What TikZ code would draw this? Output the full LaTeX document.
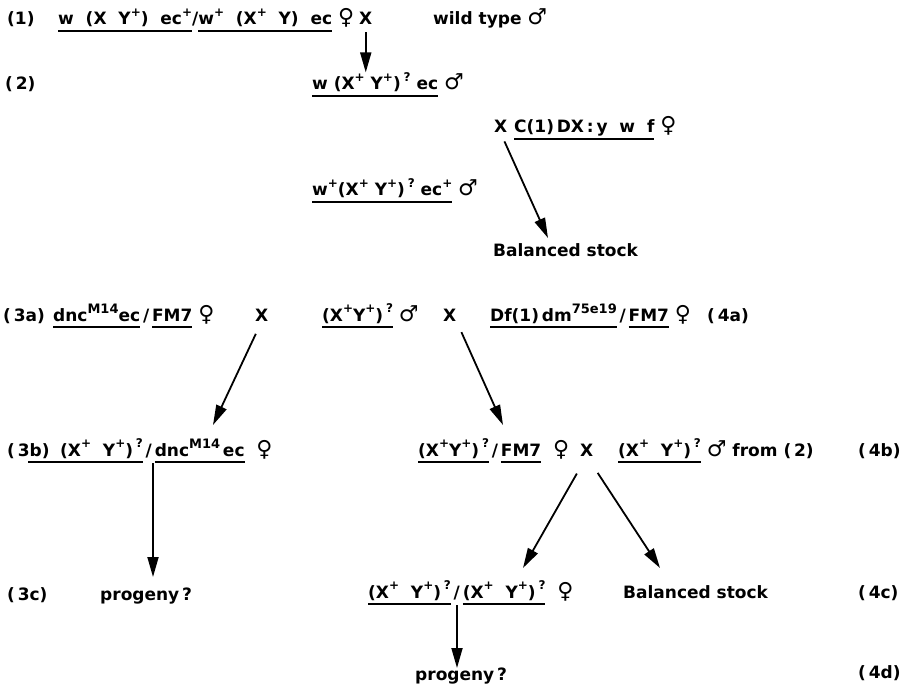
\documentclass[tikz,border=0pt]{standalone}
\usepackage{fontspec}
\setmainfont{DejaVu Sans}
\newfontfamily\symfont{DejaVu Sans}
\usetikzlibrary{arrows.meta, calc}

% underlined genotype, optional extra length on the left
\newcommand{\gul}[2][0pt]{\begingroup\setbox0\hbox{#2}\rlap{\kern-#1\rule[-7pt]{\dimexpr\wd0+#1\relax}{1.6pt}}\box0\endgroup}
\newcommand{\up}[1]{\raisebox{8.5pt}{\fontsize{12}{12}\selectfont #1}}
\newcommand{\upm}[1]{\raisebox{8pt}{\fontsize{13}{13}\selectfont #1}}
\newcommand{\fem}{{\symfont\bfseries\fontsize{22}{22}\selectfont ♀}}
\newcommand{\mal}{{\symfont\bfseries\fontsize{22}{22}\selectfont ♂}}

\begin{document}
\begin{tikzpicture}[x=1pt,y=-1pt,
  txt/.style={anchor=base west, inner sep=0pt, font=\fontsize{17}{20}\selectfont\bfseries},
  arr/.style={line width=1.8pt, -{Triangle[length=20pt,width=11pt]}}]
\useasboundingbox (0,0) rectangle (914,690);

% Cross (1) and (2)
\node[txt] (lab1) at (7,25) {(1)};
\node[txt] (p1) at (58,25) {\gul{w\ \ (X\ \ Y\up{+})\ \ ec\up{+}}/\gul{w\up{+}\ \ (X\up{+}\ \ Y)\ \ ec}~\fem};
\node[txt] (x1) at (359,25) {X};
\node[txt] (wt) at (433,25) {wild type~\mal};
\node[txt] (lab2) at (5,90) {(\,2)};
\node[txt] (p2) at (312,90) {\gul{w (X\up{+} Y\up{+})\,\up{?} ec}~\mal};
\node[txt] (x2) at (494,133) {X};
\node[txt] (cx) at (514,133) {\gul{C(1)\,DX\,:\,y\ \ w\ \ f}~\fem};
\node[txt] (p2b) at (312,196) {\gul{w\up{+}(X\up{+} Y\up{+})\,\up{?} ec\up{+}}~\mal};
\node[txt] (bs1) at (493,257) {Balanced stock};
\coordinate (tbs1) at (548,238);
\draw[arr, shorten <=7pt] (x1.south) -- (x1.south |- p2.north);
\draw[arr, shorten <=9pt] (x2.south) -- (tbs1);

% Crosses (3) and (4)
\node[txt] (lab3a) at (3,321) {(\,3a)};
\node[txt] (p3a) at (53,321) {\gul{dnc\upm{M14}ec}\,/\,\gul{FM7}~\fem};
\node[txt] (x3) at (255,321) {X};
\node[txt] (p4m) at (322,321) {\gul{(X\up{+}Y\up{+})\,\up{?}}~\mal};
\node[txt] (x4) at (443,321) {X};
\node[txt] (p4a) at (490,321) {\gul{Df(1)\,dm\upm{75e19}}\,/\,\gul{FM7}~\fem};
\node[txt] (lab4a) at (707,321) {(\,4a)};

\node[txt] (lab3b) at (7,456) {(\,3b)};
\node[txt] (p3b) at (60,456) {\gul[32pt]{(X\up{+}\ \ Y\up{+})\,\up{?}}\,/\,\gul{dnc\upm{M14}\,ec}\ \ \fem};
\node[txt] (p4b) at (418,456) {\gul{(X\up{+}Y\up{+})\,\up{?}}\,/\,\gul{FM7}\ \ \fem};
\node[txt] (x5) at (580,456) {X};
\node[txt] (p4m2) at (618,456) {\gul{(X\up{+}\ \ Y\up{+})\,\up{?}}~\mal~from (\,2)};
\node[txt] (lab4b) at (858,456) {(\,4b)};
\coordinate (t3b) at (213,425);
\coordinate (t4b) at (503,425);
\draw[arr, shorten <=14pt] (x3.south) -- (t3b);
\draw[arr, shorten <=12pt] (x4.south east) -- (t4b);

\node[txt] (lab3c) at (7,600) {(\,3c)};
\node[txt] (prog1) at (100,600) {progeny\thinspace?};
\node[txt] (p4c) at (368,598) {\gul{(X\up{+}\ \ Y\up{+})\,\up{?}}\,/\,\gul{(X\up{+}\ \ Y\up{+})\,\up{?}}\ \ \fem};
\node[txt] (bs2) at (623,598) {Balanced stock};
\node[txt] (lab4c) at (858,598) {(\,4c)};
\node[txt] (prog2) at (415,680) {progeny\thinspace?};
\node[txt] (lab4d) at (858,678) {(\,4d)};
\coordinate (t3c) at (153,577);
\coordinate (t4c) at (523,568);
\coordinate (tbs2) at (660,568);
\coordinate (t4d) at (457,668);
\draw[arr] (p3b.south -| t3c) -- (t3c);
\draw[arr, shorten <=20pt] (x5.south) -- (t4c);
\draw[arr, shorten <=20pt] (x5.south) -- (tbs2);
\draw[arr] (p4c.south -| t4d) -- (t4d);
\end{tikzpicture}
\end{document}
